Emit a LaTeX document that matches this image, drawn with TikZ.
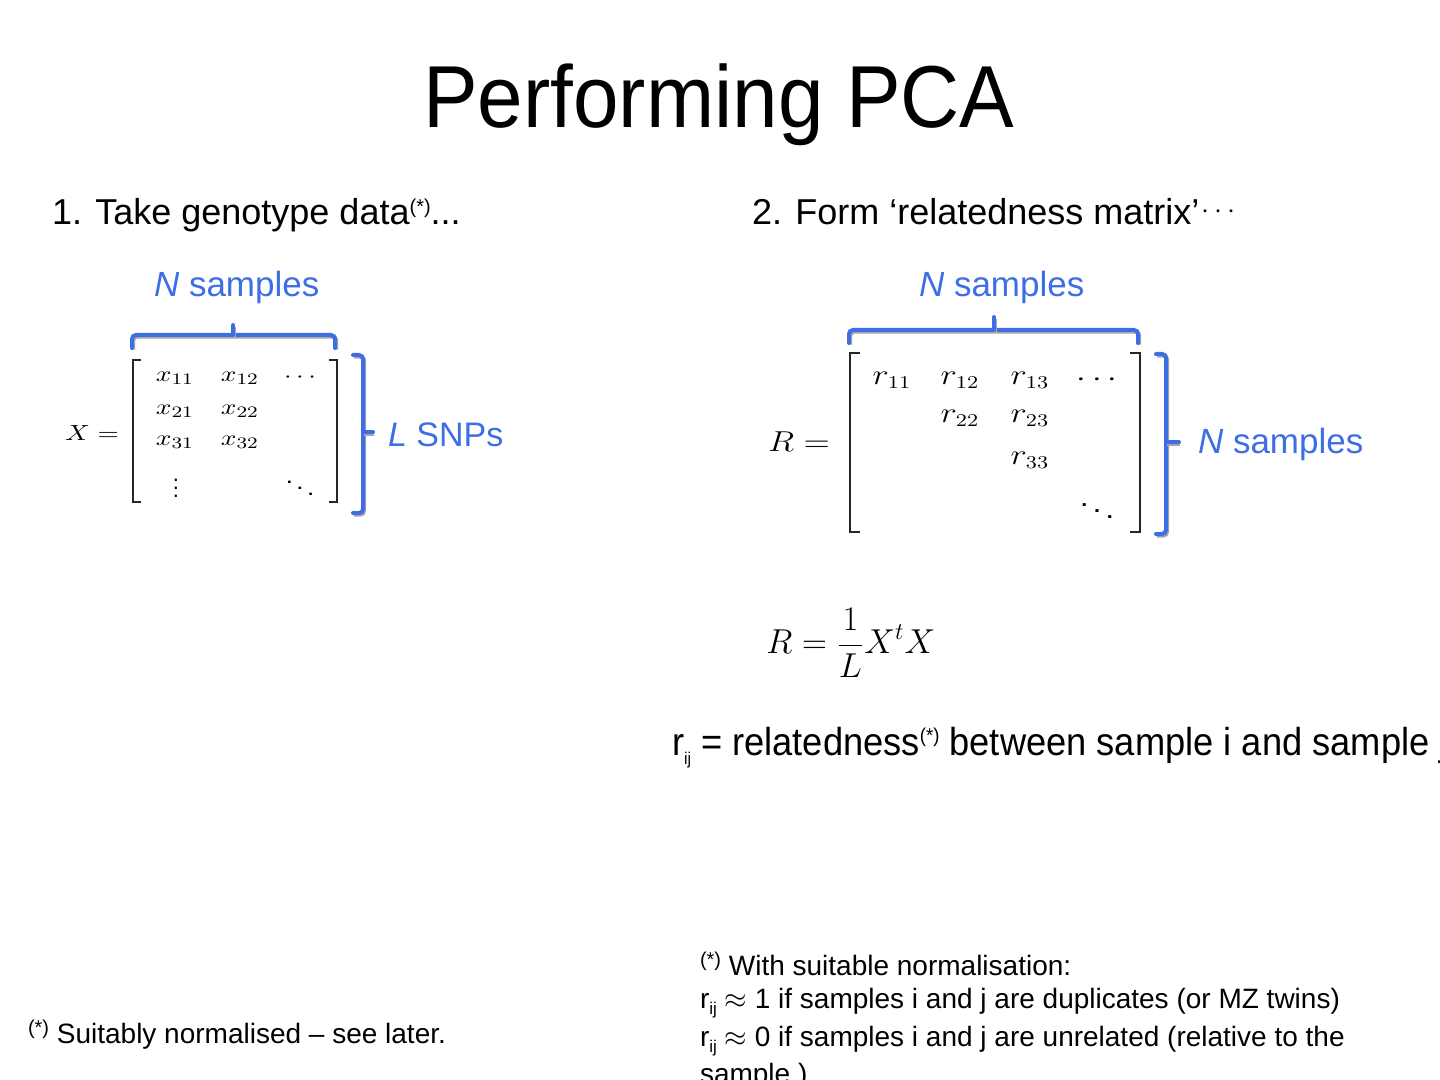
\documentclass[tikz,border=0pt]{standalone}
\usepackage{fontspec}
\usepackage{graphicx}
\setmainfont{Liberation Sans}
\newfontfamily\titlefont[FakeStretch=0.93]{Liberation Sans}
\newfontfamily\narrowfont[FakeStretch=0.93]{Liberation Sans}
\definecolor{braceblue}{RGB}{61,110,229}
\newcommand{\XE}[1]{\scalebox{1.25}[1]{$#1$}}
\newcommand{\RE}[1]{\scalebox{1.2}[1]{$#1$}}
\newcommand{\fnast}{\raisebox{0.6ex}{\fontsize{10}{10}\selectfont(*)}}
\newcommand{\subij}{\raisebox{-0.45ex}{\fontsize{8.5}{8.5}\selectfont ij}}
\begin{document}
\begin{tikzpicture}[x=0.5pt,y=-0.5pt,
  txt/.style={inner sep=0pt,outer sep=0pt,anchor=base west},
  blue label/.style={txt,text=braceblue,font=\fontsize{17.5}{20}\selectfont},
  brace/.style={draw=braceblue,line width=2pt,rounded corners=2pt,line cap=round,
    preaction={draw=black!35,line width=2pt,transform canvas={xshift=0.6pt,yshift=-0.8pt}}},
  mbr/.style={draw=black!85,line width=1pt},
  xent/.style={inner sep=0pt,font=\fontsize{11}{13}\selectfont},
  rent/.style={inner sep=0pt,font=\fontsize{13.4}{15}\selectfont},
  foot/.style={txt,font=\fontsize{14}{16}\selectfont}]
\useasboundingbox (0,0) rectangle (1440,1080);
\clip (0,0) rectangle (1440,1080);
% title
\node[inner sep=0pt,anchor=base,font=\titlefont\fontsize{44}{50}\selectfont] (title) at (719,128) {Performing PCA};
% headings
\node[txt,font=\fontsize{18}{20}\selectfont] (h1) at (52,225) {1. Take genotype data\fnast...};
\node[txt,font=\fontsize{18}{20}\selectfont] (h2) at (752,225) {2. Form ‘relatedness matrix’\kern1pt\raisebox{3pt}{\fontsize{14}{14}\selectfont$\cdots$}};
% blue labels
\node[blue label] (ns1) at (154,297) {\textit{N} samples};
\node[blue label] (ns2) at (919,297) {\textit{N} samples};
\node[blue label,font=\fontsize{17}{20}\selectfont] (lsnp) at (388,446) {\textit{L} SNPs};
\node[blue label] (ns3) at (1198,453) {\textit{N} samples};
% X matrix
\node[xent] (xeq) at (92,433) {\XE{X=}};
\node[xent] (x11) at (175,378) {\XE{x_{11}}};
\node[xent] (x12) at (240,378) {\XE{x_{12}}};
\node[xent] (x1d) at (300,378) {\XE{\cdots}};
\node[xent] (x21) at (175,411) {\XE{x_{21}}};
\node[xent] (x22) at (240,411) {\XE{x_{22}}};
\node[xent] (x31) at (175,442) {\XE{x_{31}}};
\node[xent] (x32) at (240,442) {\XE{x_{32}}};
\node[xent] (xvd) at (176,482) {$\vdots$};
\node[xent] (xdd) at (300,482) {\XE{\ddots}};
\draw[mbr] (141,360) -- (133,360) -- (133,502) -- (141,502);
\draw[mbr] (329,360) -- (337,360) -- (337,502) -- (329,502);
% braces for X
\draw[brace] (132,348) -- (132,335) -- (335,335) -- (335,348);
\draw[brace] (233,335) -- (233,325);
\draw[brace] (353,355) -- (363,355) -- (363,513) -- (353,513);
\draw[brace] (363,432) -- (373,432);
% R matrix
\node[rent] (req) at (799,442) {\RE{R=}};
\node[rent] (r11) at (892,380) {\RE{r_{11}}};
\node[rent] (r12) at (960,380) {\RE{r_{12}}};
\node[rent] (r13) at (1030,380) {\RE{r_{13}}};
\node[rent] (r1d) at (1097,380) {\RE{\cdots}};
\node[rent] (r22) at (960,418) {\RE{r_{22}}};
\node[rent] (r23) at (1030,418) {\RE{r_{23}}};
\node[rent] (r33) at (1030,460) {\RE{r_{33}}};
\node[rent] (rdd) at (1097,505) {\RE{\ddots}};
\draw[mbr] (860,353) -- (850,353) -- (850,532) -- (860,532);
\draw[mbr] (1130,353) -- (1140,353) -- (1140,532) -- (1130,532);
% braces for R
\draw[brace] (849,343) -- (849,330) -- (1138,330) -- (1138,343);
\draw[brace] (994,330) -- (994,317);
\draw[brace] (1156,354) -- (1166,354) -- (1166,534) -- (1156,534);
\draw[brace] (1166,442) -- (1179,442);
% formula
\node[inner sep=0pt,anchor=west,font=\fontsize{18}{20}\selectfont] (form) at (766,643) {$\displaystyle R=\frac{1}{L}X^tX$};
% relatedness line
\node[txt,font=\narrowfont\fontsize{19.5}{22}\selectfont] (rel) at (672,755) {r\subij{} = relatedness\fnast{} between sample i and sample j};
% footnotes
\node[foot] (fn1) at (700,975) {\fnast{} With suitable normalisation:};
\node[foot] (fn2) at (700,1008) {r\subij{} $\approx$ 1 if samples i and j are duplicates (or MZ twins)};
\node[foot] (fn3) at (700,1046) {r\subij{} $\approx$ 0 if samples i and j are unrelated (relative to the};
\node[foot] (fn4) at (700,1083) {sample.)};
\node[foot] (fn5) at (28,1043) {\fnast{} Suitably normalised – see later.};
\end{tikzpicture}
\end{document}
